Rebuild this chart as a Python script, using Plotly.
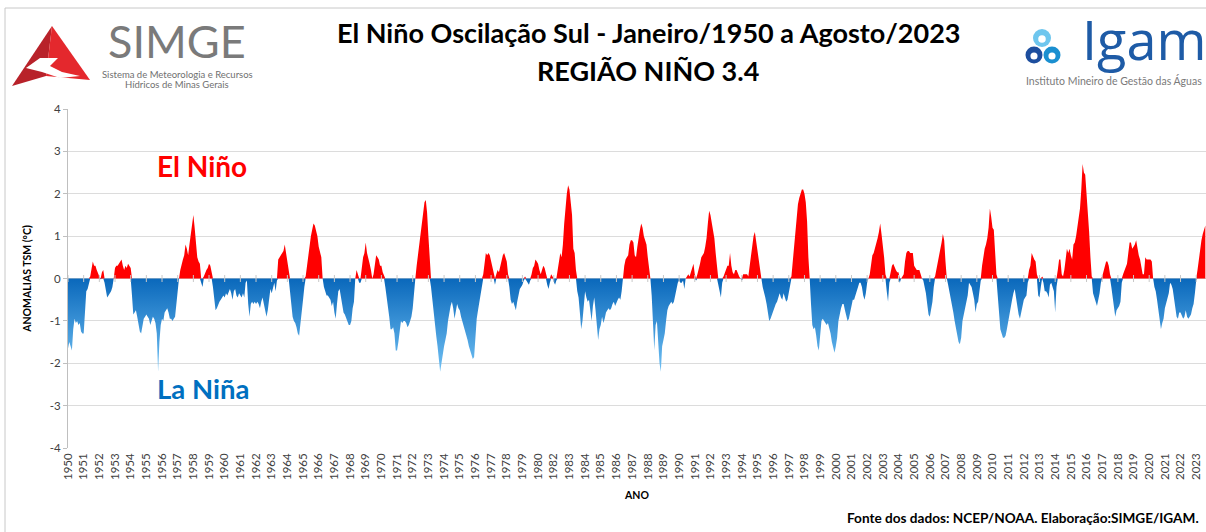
import plotly.graph_objects as go

# Monthly Niño 3.4 SST anomalies (°C), Jan/1950 - Aug/2023.
# The source table has no 1981 rows (its axis jumps from 1980 to 1982).
years = [y for y in range(1950, 2024) if y != 1981]

anom_1950s = [
    -1.65, -1.5, -1.6, -1.7, -1.2, -0.95, -1.05, -1.0, -1.1, -1.05, -1.25, -1.3,   # 1950
    -1.3, -0.9, -0.3, -0.25, -0.15, 0.05, 0.25, 0.4, 0.3, 0.3, 0.2, 0.1,           # 1951
    0.05, -0.02, 0.15, 0.2, -0.1, -0.3, -0.45, -0.4, -0.35, -0.3, -0.2, 0.0,       # 1952
    0.25, 0.3, 0.3, 0.35, 0.4, 0.45, 0.3, 0.2, 0.3, 0.25, 0.35, 0.3,               # 1953
    0.25, -0.4, -0.85, -0.8, -0.75, -0.9, -1.05, -1.25, -1.3, -1.1, -0.95, -0.9,   # 1954
    -0.85, -0.9, -0.95, -1.1, -1.0, -0.9, -0.95, -1.05, -1.3, -2.2, -1.5, -1.1,    # 1955
    -0.95, -1.0, -0.8, -0.75, -0.7, -0.8, -0.95, -0.95, -1.0, -0.95, -0.9, -0.6,   # 1956
    -0.3, 0.0, 0.2, 0.35, 0.45, 0.55, 0.8, 0.7, 0.55, 0.8, 1.0, 1.2,               # 1957
    1.5, 1.2, 0.9, 0.5, 0.4, 0.35, -0.1, -0.2, 0.05, 0.15, 0.2, 0.25,              # 1958
    0.35, 0.3, 0.1, -0.2, -0.5, -0.75, -0.7, -0.6, -0.55, -0.5, -0.45, -0.4,       # 1959
]
anom_1960s = [
    -0.45, -0.35, -0.4, -0.3, -0.25, -0.35, -0.5, -0.3, -0.25, -0.4, -0.45, -0.35,  # 1960
    -0.4, -0.45, -0.35, -0.45, -0.1, -0.05, -0.6, -0.9, -0.6, -0.55, -0.6, -0.55,  # 1961
    -0.6, -0.55, -0.6, -0.7, -0.55, -0.45, -0.6, -0.8, -0.9, -0.75, -0.45, -0.25,  # 1962
    -0.35, -0.2, -0.1, -0.3, -0.05, 0.45, 0.5, 0.55, 0.6, 0.65, 0.8, 0.6,          # 1963
    0.5, 0.2, -0.3, -0.7, -0.9, -1.0, -1.05, -1.15, -1.3, -1.35, -1.1, -0.8,       # 1964
    -0.5, -0.2, 0.05, 0.3, 0.55, 0.8, 1.0, 1.15, 1.3, 1.25, 1.1, 1.0,              # 1965
    0.75, 0.65, 0.5, 0.0, -0.2, -0.3, -0.4, -0.4, -0.45, -0.5, -0.65, -0.55,       # 1966
    -0.8, -0.95, -0.6, -0.3, -0.25, -0.45, -0.7, -0.8, -0.85, -0.95, -1.0, -1.1,   # 1967
    -1.1, -1.0, -0.7, -0.55, 0.0, 0.2, 0.1, -0.1, -0.1, 0.3, 0.5, 0.6,             # 1968
    0.85, 0.6, 0.5, 0.35, 0.2, 0.0, 0.1, 0.35, 0.55, 0.5, 0.45, 0.3,               # 1969
]
anom_1970s = [
    0.3, 0.15, 0.05, -0.2, -0.4, -0.65, -0.9, -1.2, -1.2, -1.15, -1.3, -1.7,       # 1970
    -1.7, -1.5, -1.3, -1.0, -1.05, -1.0, -1.0, -1.05, -1.15, -1.1, -1.0, -0.9,     # 1971
    -0.7, -0.4, 0.0, 0.3, 0.6, 0.9, 1.05, 1.3, 1.5, 1.8, 1.85, 1.55,               # 1972
    1.0, 0.3, -0.2, -0.5, -0.85, -1.2, -1.35, -1.6, -1.9, -2.2, -2.0, -1.75,       # 1973
    -1.6, -1.45, -1.3, -1.0, -0.8, -0.65, -0.55, -0.7, -0.95, -0.75, -0.6, -0.7,   # 1974
    -0.75, -0.9, -1.0, -1.1, -1.25, -1.3, -1.45, -1.6, -1.7, -1.75, -1.9, -1.85,   # 1975
    -1.3, -0.95, -0.75, -0.55, -0.3, -0.1, 0.1, 0.35, 0.6, 0.55, 0.6, 0.55,        # 1976
    0.4, 0.3, 0.1, -0.15, 0.1, 0.2, 0.15, 0.3, 0.45, 0.55, 0.6, 0.5,               # 1977
    0.4, 0.1, -0.2, -0.5, -0.6, -0.55, -0.65, -0.75, -0.55, -0.35, -0.25, -0.2,    # 1978
    -0.15, -0.05, 0.05, -0.05, -0.1, -0.15, -0.05, 0.1, 0.25, 0.3, 0.45, 0.4,      # 1979
]
anom_1980s = [
    0.35, 0.2, 0.1, 0.2, 0.3, 0.25, 0.1, -0.15, -0.25, -0.1, 0.1, 0.05,            # 1980
    -0.1, -0.15, -0.05, 0.2, 0.45, 0.6, 0.5, 0.8, 1.3, 1.7, 2.0, 2.2,              # 1982
    2.1, 1.8, 1.5, 0.7, 0.6, 0.2, -0.3, -0.45, -0.8, -1.2, -1.0, -0.6,             # 1983
    -0.3, -0.45, -0.55, -0.5, -0.8, -1.0, -0.65, -0.45, -0.75, -1.2, -1.45, -1.2,  # 1984
    -1.1, -0.9, -1.05, -0.95, -0.8, -0.75, -0.7, -0.75, -0.7, -0.6, -0.55, -0.65,  # 1985
    -0.55, -0.5, -0.45, -0.5, -0.3, 0.0, 0.3, 0.45, 0.5, 0.55, 0.8, 0.9,           # 1986
    0.9, 0.85, 0.55, 0.5, 0.75, 1.0, 1.15, 1.3, 1.2, 1.0, 0.9, 0.8,                # 1987
    0.5, 0.3, 0.0, -0.4, -1.2, -1.7, -1.1, -1.0, -1.5, -2.0, -2.2, -1.6,           # 1988
    -1.45, -1.3, -1.0, -0.75, -0.65, -0.6, -0.55, -0.6, -0.55, -0.4, -0.2, -0.1,   # 1989
]
anom_1990s = [
    -0.05, -0.1, -0.1, -0.05, -0.25, 0.0, 0.05, 0.1, 0.05, 0.15, 0.3, 0.35,        # 1990
    0.1, -0.05, 0.1, 0.2, 0.35, 0.5, 0.55, 0.6, 0.75, 0.95, 1.3, 1.6,              # 1991
    1.5, 1.3, 1.05, 0.95, 0.6, 0.2, -0.15, -0.35, -0.45, -0.1, 0.05, 0.15,         # 1992
    0.25, 0.3, 0.3, 0.6, 0.3, 0.15, 0.1, 0.2, 0.2, 0.1, 0.05, 0.0,                 # 1993
    -0.05, 0.1, 0.1, 0.1, 0.1, 0.05, 0.3, 0.5, 0.8, 1.0, 1.1, 0.9,                 # 1994
    0.7, 0.5, 0.3, 0.0, -0.2, -0.3, -0.45, -0.6, -0.8, -1.0, -0.95, -0.85,         # 1995
    -0.75, -0.65, -0.6, -0.55, -0.45, -0.35, -0.45, -0.5, -0.35, -0.45, -0.55, -0.5,  # 1996
    -0.35, -0.15, 0.05, 0.4, 0.8, 1.2, 1.5, 1.75, 1.9, 2.0, 2.1, 2.1,              # 1997
    2.0, 1.8, 1.35, 0.5, 0.0, -0.6, -1.1, -1.2, -1.15, -1.35, -1.6, -1.7,          # 1998
    -1.4, -1.0, -0.95, -1.0, -1.05, -1.1, -1.05, -1.15, -1.3, -1.5, -1.65, -1.75,  # 1999
]
anom_2000s = [
    -1.6, -1.4, -1.0, -0.8, -0.7, -0.6, -0.6, -0.75, -0.9, -1.0, -0.95, -0.8,      # 2000
    -0.6, -0.5, -0.5, -0.4, -0.3, -0.15, -0.1, -0.1, -0.2, -0.4, -0.5, -0.35,      # 2001
    -0.1, 0.0, 0.1, 0.3, 0.55, 0.6, 0.7, 0.85, 0.95, 1.1, 1.3, 1.05,               # 2002
    0.8, 0.5, 0.1, -0.3, -0.55, -0.1, 0.15, 0.3, 0.35, 0.25, 0.2, 0.15,            # 2003
    0.15, -0.1, 0.0, 0.05, 0.1, 0.4, 0.6, 0.65, 0.65, 0.6, 0.6, 0.6,               # 2004
    0.3, 0.25, 0.2, 0.2, 0.2, 0.1, 0.0, -0.05, -0.2, -0.35, -0.6, -0.85,           # 2005
    -0.9, -0.7, -0.55, -0.2, 0.05, 0.2, 0.35, 0.55, 0.7, 0.85, 1.05, 0.9,          # 2006
    0.4, 0.0, -0.15, -0.3, -0.5, -0.65, -0.8, -1.0, -1.15, -1.3, -1.5, -1.55,      # 2007
    -1.4, -1.0, -0.85, -0.7, -0.55, -0.4, -0.1, -0.15, -0.2, -0.35, -0.5, -0.8,    # 2008
    -0.6, -0.55, -0.3, -0.05, 0.3, 0.55, 0.7, 0.8, 0.95, 1.2, 1.65, 1.45,          # 2009
]
anom_2010s = [
    1.2, 1.15, 0.6, 0.1, -0.4, -0.9, -1.2, -1.3, -1.4, -1.4, -1.35, -1.2,          # 2010
    -1.0, -0.85, -0.7, -0.5, -0.35, -0.25, -0.45, -0.7, -0.85, -0.95, -0.8, -0.65, # 2011
    -0.5, -0.45, -0.4, -0.1, 0.2, 0.3, 0.6, 0.5, 0.45, 0.4, 0.1, -0.4,             # 2012
    -0.45, -0.2, 0.05, -0.1, -0.3, -0.3, -0.35, -0.45, -0.15, -0.1, -0.2, -0.3,    # 2013
    -0.8, -0.2, 0.2, 0.45, 0.45, 0.1, 0.05, 0.2, 0.45, 0.7, 0.6, 0.7,              # 2014
    0.55, 0.45, 0.8, 0.85, 1.0, 1.2, 1.4, 1.65, 2.1, 2.7, 2.5, 2.45,               # 2015
    2.0, 1.6, 1.1, 0.5, 0.05, -0.35, -0.45, -0.55, -0.65, -0.5, -0.35, -0.1,       # 2016
    0.05, 0.15, 0.3, 0.4, 0.4, 0.3, 0.1, -0.2, -0.4, -0.7, -0.9, -0.75,            # 2017
    -0.7, -0.65, -0.55, -0.1, 0.1, 0.2, 0.25, 0.35, 0.6, 0.85, 0.85, 0.7,          # 2018
    0.75, 0.8, 0.9, 0.7, 0.55, 0.45, 0.25, 0.1, 0.1, 0.5, 0.45, 0.45,              # 2019
]
anom_2020s = [
    0.45, 0.45, 0.4, 0.0, -0.2, -0.3, -0.5, -0.75, -0.95, -1.2, -1.05, -0.95,      # 2020
    -0.7, -0.6, -0.5, -0.35, -0.1, -0.15, -0.25, -0.45, -0.65, -0.9, -0.95, -0.8,  # 2021
    -0.8, -0.9, -0.95, -0.9, -0.75, -0.9, -0.95, -0.9, -0.85, -0.7, -0.6, -0.35,   # 2022
    -0.05, 0.2, 0.45, 0.7, 0.9, 1.05, 1.15, 1.25,                                  # 2023 (Jan-Aug)
]

y_ticks = [4, 3, 2, 1, 0, -1, -2, -3, -4]

values = anom_1950s + anom_1960s + anom_1970s + anom_1980s + anom_1990s + anom_2000s + anom_2010s + anom_2020s
idx = list(range(len(values)))
pos = [v if v > 0 else 0 for v in values]
neg = [v if v < 0 else 0 for v in values]
tick_idx = [12 * k for k in range(len(years))]

W, H = 1206, 532
L, R, T, B = 68, 0, 109, 84
PW, PH = W - L - R, H - T - B


def px(x):
    return (x - L) / PW


def py(y):
    return (H - B - y) / PH


fig = go.Figure()
fig.add_trace(go.Scatter(
    x=idx, y=neg, mode="lines", line=dict(width=0, color="#0B6BBE"),
    fill="tozeroy",
    fillgradient=dict(type="vertical", start=-2.3, stop=0,
                      colorscale=[[0, "#74C4F6"], [1, "#0A68BB"]]),
    hoverinfo="skip", showlegend=False))
fig.add_trace(go.Scatter(
    x=idx, y=pos, mode="lines", line=dict(width=0, color="#FF0000"),
    fill="tozeroy", fillcolor="#FF0000", hoverinfo="skip", showlegend=False))
fig.add_trace(go.Scatter(
    x=tick_idx, y=[0] * len(tick_idx), mode="markers",
    marker=dict(symbol="line-ns", size=5, line=dict(width=1, color="#C8C8C8")),
    hoverinfo="skip", showlegend=False))

BASE = "Lato, 'Open Sans', sans-serif"

fig.update_layout(
    width=W, height=H,
    margin=dict(l=L, r=R, t=T, b=B, autoexpand=False),
    paper_bgcolor="white", plot_bgcolor="white",
    font=dict(family=BASE, color="#404040"),
    xaxis=dict(
        range=[0, len(values) - 0.5], tickmode="array", tickvals=tick_idx,
        ticktext=[str(y) for y in years], tickangle=-90,
        tickfont=dict(size=11.5, color="#404040"), showgrid=False,
        zeroline=False, showline=False, ticks="", ticklabelstandoff=2,
        title=dict(text="<b>ANO</b>", font=dict(size=10.5, color="#000000"), standoff=12),
    ),
    yaxis=dict(
        range=[-4, 4], tickmode="array", tickvals=y_ticks,
        ticktext=[str(v) for v in y_ticks], tickfont=dict(size=11.5, color="#404040"),
        showgrid=True, gridcolor="#DCDCDC", gridwidth=1,
        zeroline=True, zerolinecolor="#D0D0D0", zerolinewidth=1,
        showline=True, linecolor="#BFBFBF", linewidth=1,
        ticks="outside", ticklen=4, tickcolor="#BFBFBF",
        title=dict(text="<b>ANOMALIAS TSM (°C)</b>", font=dict(size=10.5, color="#000000"), standoff=16),
    ),
)

annotations = [
    dict(text="<b>El Niño Oscilação Sul - Janeiro/1950 a Agosto/2023</b>", x=px(648), y=py(33),
         font=dict(size=27, color="#000000")),
    dict(text="<b>REGIÃO NIÑO 3.4</b>", x=px(648), y=py(70), font=dict(size=27, color="#000000")),
    dict(text="<b>El Niño</b>", x=px(202), y=py(166), font=dict(size=28, color="#FF0000")),
    dict(text="<b>La Niña</b>", x=px(203), y=py(388), font=dict(size=27.5, color="#0070C0")),
    dict(text="<b>Fonte dos dados: NCEP/NOAA. Elaboração:SIMGE/IGAM.</b>", x=px(1201), y=py(518),
         xanchor="right", font=dict(size=13.6, color="#000000")),
    dict(text="SIMGE", x=px(177), y=py(41), font=dict(size=45, color="#7A7A7A")),
    dict(text="Sistema de Meteorologia e Recursos", x=px(177), y=py(74), font=dict(size=9.5, color="#707070")),
    dict(text="Hídricos de Minas Gerais", x=px(177), y=py(85), font=dict(size=9.5, color="#707070")),
    dict(text="Igam", x=px(1208), y=py(39), xanchor="right",
         font=dict(size=54, color="#1E5BA6", family="'Open Sans', sans-serif")),
    dict(text="Instituto Mineiro de Gestão das Águas", x=px(1114), y=py(81), font=dict(size=10.5, color="#7A7A7A")),
]
for a in annotations:
    a.setdefault("xanchor", "center")
    a.update(xref="paper", yref="paper", yanchor="middle", showarrow=False)
fig.update_layout(annotations=annotations)


def path(points, close=True):
    s = "M " + " L ".join(f"{px(x):.5f},{py(y):.5f}" for x, y in points)
    return s + (" Z" if close else "")


shapes = [
    # outer frame
    dict(type="rect", x0=px(5), x1=px(1215), y0=py(540), y1=py(8), line=dict(color="#C8C8C8", width=1)),
    # SIMGE logo triangle
    dict(type="path", path=path([(52, 26), (12, 86), (46, 76)]), fillcolor="#B8222A", line=dict(width=0)),
    dict(type="path", path=path([(52, 26), (46, 76), (90, 80)]), fillcolor="#E4282D", line=dict(width=0)),
    dict(type="path", path=path([(26, 68), (40, 58), (58, 58), (50, 66), (62, 72), (80, 76), (60, 78), (42, 72)]),
         fillcolor="white", line=dict(width=0)),
]
# Igam drops (ring style)
for (cx, cy, r, col) in [(1042, 38, 9, "#6EC6EE"), (1034, 55, 8.5, "#1D4E9E"), (1052, 55, 8.5, "#1A8FD0")]:
    shapes.append(dict(type="circle", x0=px(cx - r), x1=px(cx + r), y0=py(cy + r), y1=py(cy - r),
                       fillcolor=col, line=dict(width=0)))
    ri = r * 0.42
    shapes.append(dict(type="circle", x0=px(cx - ri), x1=px(cx + ri), y0=py(cy + ri + 1), y1=py(cy - ri + 1),
                       fillcolor="white", line=dict(width=0)))
for s in shapes:
    s.update(xref="paper", yref="paper", layer="above")
fig.update_layout(shapes=shapes)

fig.write_html(
    "out.html",
    config={"displayModeBar": False},
    post_script="document.body.style.margin='0';document.body.style.overflow='hidden';",
)
